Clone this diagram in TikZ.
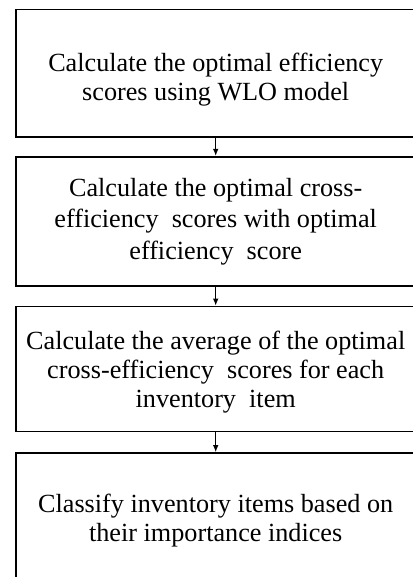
\documentclass[tikz,border=0pt]{standalone}
\usepackage{fontspec}
\setmainfont{Liberation Serif}
\usetikzlibrary{arrows.meta}
\begin{document}
\begin{tikzpicture}[x=1pt,y=-1pt,
  stepbox/.style={draw=black,line width=1.6pt,minimum width=400pt,inner sep=0pt},
  steptext/.style={anchor=north,inner sep=0pt,align=center,
    font=\fontsize{26.2}{29}\selectfont},
  steptextwide/.style={steptext,font=\fontsize{26.2}{31.5}\selectfont},
  flow/.style={line width=1.1pt,-{Latex[length=7pt,width=5.5pt]}}]
\useasboundingbox (0,0) rectangle (412,577);
\fill[white] (0,0) rectangle (412,577);
\node[stepbox,minimum height=127.5pt] (b1) at (215.7,73.2) {};
\node[stepbox,minimum height=129.5pt] (b2) at (215.7,221.5) {};
\node[stepbox,minimum height=125pt] (b3) at (215.7,369) {};
\node[stepbox,minimum height=130pt] (b4) at (215.7,518) {};
\node[steptext] (t1) at (215.7,52.8)
  {Calculate the optimal efficiency\\scores using WLO model};
\node[steptextwide] (t2) at (215.7,178)
  {Calculate the optimal cross-\\efficiency\ \ scores with optimal\\efficiency\ \ score};
\node[steptext] (t3) at (215.7,330.4)
  {Calculate the average of the optimal\\cross-efficiency\ \ scores for each\\inventory\ \ item};
\node[steptext] (t4) at (215.7,493.8)
  {Classify inventory items based on\\their importance indices};
\draw[flow] (b1.south) -- (b2.north);
\draw[flow] (b2.south) -- (b3.north);
\draw[flow] (b3.south) -- (b4.north);
\end{tikzpicture}
\end{document}
